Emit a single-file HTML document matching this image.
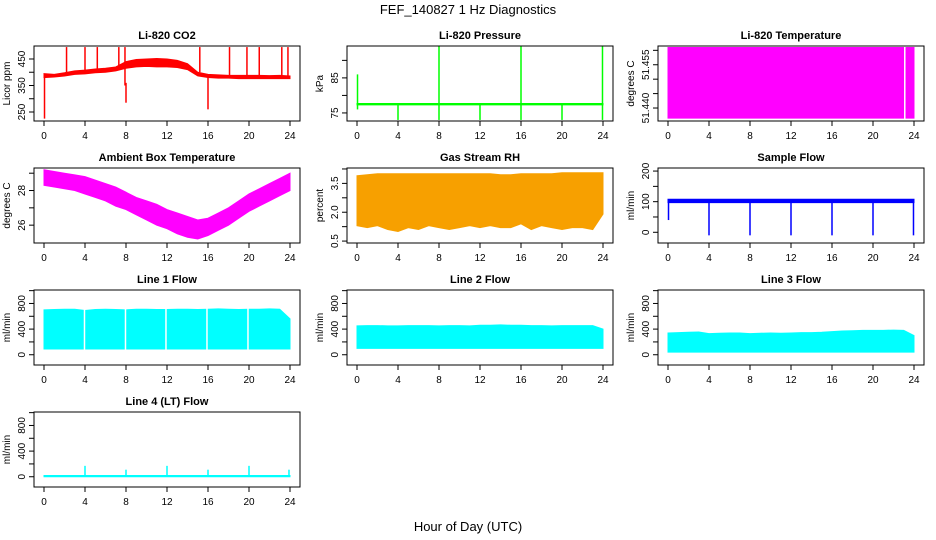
<!DOCTYPE html>
<html><head><meta charset="utf-8"><style>
body{margin:0;background:#fff;}
svg{display:block;font-family:"Liberation Sans",sans-serif;}
</style></head><body>
<svg id="c" width="936" height="540" viewBox="0 0 936 540">
<text x="468" y="14" text-anchor="middle" font-size="13">FEF_140827  1 Hz Diagnostics</text>
<text x="468" y="531" text-anchor="middle" font-size="13">Hour of Day (UTC)</text>
</svg>
<script>
const hours=[0,1,2,3,4,5,6,7,8,9,10,11,12,13,14,15,16,17,18,19,20,21,22,23,24];
const xTicks=[0,4,8,12,16,20,24];
// CO2
const co2Hi=[395,392,398,405,408,412,415,420,440,448,450,452,450,445,432,400,392,390,388,388,388,388,387,388,386];
const co2Lo=[380,382,386,392,394,398,400,405,415,420,422,420,420,418,410,386,380,378,378,376,376,376,376,376,376];
const co2SpikeX=[0.05,2.2,4.0,5.2,7.3,7.9,8.0,15.2,16.0,18.1,19.8,21.0,23.2,23.8];
const co2SpikeTop=[395,495,495,495,495,495,360,495,390,495,495,495,495,495];
const co2SpikeBot=[225,395,400,410,420,350,285,400,260,380,376,376,376,376];
// Pressure
const presHi=hours.map(()=>77.7);
const presLo=hours.map(()=>77.3);
const presSpikeX=[0.05,4,8,12,16,20,23.95];
const presSpikeTop=[86,77.8,94,77.8,94,77.8,94];
const presSpikeBot=[76,73,73,73,73,73,73];
// Li-820 temperature
const tempHi=hours.map(()=>51.461);
const tempLo=hours.map(()=>51.4365);
// Ambient box temperature
const ambHi=[29.2,29.1,29.0,28.9,28.8,28.6,28.4,28.2,27.9,27.6,27.4,27.2,26.9,26.7,26.5,26.3,26.4,26.7,27.0,27.4,27.8,28.1,28.4,28.7,29.0];
const ambLo=[28.3,28.2,28.1,28.0,27.8,27.6,27.4,27.1,26.9,26.6,26.3,26.0,25.8,25.5,25.3,25.2,25.4,25.7,26.0,26.4,26.8,27.1,27.4,27.7,28.0];
// RH
const rhHi=[3.9,3.95,4.0,4.0,4.0,4.0,4.0,4.0,4.0,4.0,4.0,4.0,4.0,4.0,3.95,3.95,4.0,4.0,4.0,4.0,4.05,4.05,4.05,4.05,4.05];
const rhLo=[1.3,1.2,1.3,1.1,1.0,1.2,1.1,1.3,1.2,1.1,1.2,1.3,1.2,1.3,1.2,1.2,1.4,1.1,1.3,1.2,1.1,1.2,1.2,1.1,1.9];
// Sample flow
const sfHi=hours.map(()=>108);
const sfLo=hours.map(()=>97);
const sfSpikeX=[0.05,4,8,12,16,20,23.95];
const sfSpikeTop=[100,100,100,100,100,100,100];
const sfSpikeBot=[40,-10,-10,-10,-10,-10,-10];
// Line flows
const l1Hi=[700,705,710,710,690,705,710,705,700,710,710,705,705,710,710,705,710,715,710,705,710,710,715,710,560];
const l1Lo=hours.map(()=>90);
const l2Hi=[450,455,455,450,450,455,455,455,450,455,455,450,460,460,465,460,460,455,455,450,455,455,455,455,400];
const l2Lo=hours.map(()=>100);
const l3Hi=[340,345,350,355,330,335,340,340,330,335,340,335,340,345,345,350,360,370,375,380,380,380,385,380,300];
const l3Lo=hours.map(()=>40);
const l4Hi=hours.map(()=>20);
const l4Lo=hours.map(()=>0);
const l4SpikeX=[4,8,12,16,20,23.9];
const l4SpikeTop=[170,110,170,110,170,110];
const gapX=[3.95,7.95,11.9,15.9,19.9];

const NS='http://www.w3.org/2000/svg';
const svg=document.getElementById('c');
function el(tag,attrs,parent){const e=document.createElementNS(NS,tag);for(const k in attrs)e.setAttribute(k,attrs[k]);(parent||svg).appendChild(e);return e;}

const flowTicks=[0,400,800];
const panels=[
 {c:0,r:0,title:'Li-820 CO2',ylab:'Licor ppm',ylim:[216,499],yt:[250,350,450],ym:[300,400],col:'#ff0000',hi:co2Hi,lo:co2Lo,sx:co2SpikeX,st:co2SpikeTop,sb:co2SpikeBot},
 {c:1,r:0,title:'Li-820 Pressure',ylab:'kPa',ylim:[72.7,94.1],yt:[75,85],ym:[80,90],col:'#00ff00',hi:presHi,lo:presLo,sx:presSpikeX,st:presSpikeTop,sb:presSpikeBot},
 {c:2,r:0,title:'Li-820 Temperature',ylab:'degrees C',ylim:[51.4355,51.4615],yt:[51.44,51.455],ym:[51.445,51.45,51.46],ytf:v=>v.toFixed(3),col:'#ff00ff',hi:tempHi,lo:tempLo,gaps:[23.1]},
 {c:0,r:1,title:'Ambient Box Temperature',ylab:'degrees C',ylim:[24.97,29.3],yt:[26,28],ym:[27,29],col:'#ff00ff',hi:ambHi,lo:ambLo},
 {c:1,r:1,title:'Gas Stream RH',ylab:'percent',ylim:[0.4,4.3],yt:[0.5,2.0,3.5],ym:[1.25,2.75,4.25],ytf:v=>v.toFixed(1),col:'#f7a000',hi:rhHi,lo:rhLo},
 {c:2,r:1,title:'Sample Flow',ylab:'ml/min',ylim:[-35,210],yt:[0,100,200],ym:[50,150],col:'#0000ff',hi:sfHi,lo:sfLo,sx:sfSpikeX,st:sfSpikeTop,sb:sfSpikeBot},
 {c:0,r:2,title:'Line 1 Flow',ylab:'ml/min',ylim:[-160,1010],yt:flowTicks,ym:[200,600,1000],col:'#00ffff',hi:l1Hi,lo:l1Lo,gaps:gapX},
 {c:1,r:2,title:'Line 2 Flow',ylab:'ml/min',ylim:[-160,1010],yt:flowTicks,ym:[200,600,1000],col:'#00ffff',hi:l2Hi,lo:l2Lo},
 {c:2,r:2,title:'Line 3 Flow',ylab:'ml/min',ylim:[-160,1010],yt:flowTicks,ym:[200,600,1000],col:'#00ffff',hi:l3Hi,lo:l3Lo},
 {c:0,r:3,title:'Line 4 (LT) Flow',ylab:'ml/min',ylim:[-160,1010],yt:flowTicks,ym:[200,600,1000],col:'#00ffff',hi:l4Hi,lo:l4Lo,sx:l4SpikeX,st:l4SpikeTop,sb:l4SpikeX.map(()=>0)}
];
const colX=[34,347,658], rowY=[46,168,290,412], W=266, Hh=75;
panels.forEach((p,i)=>{
  const L=colX[p.c], T=rowY[p.r], B=T+Hh, R=L+W;
  const g=el('g',{});
  
  
  const xs=v=>L+10+(v)*(W-20)/24;
  const ys=v=>B-(v-p.ylim[0])/(p.ylim[1]-p.ylim[0])*Hh;
  let d='M'+hours.map((h,j)=>xs(h)+','+ys(p.hi[j])).join(' L');
  for(let j=hours.length-1;j>=0;j--)d+=' L'+xs(hours[j])+','+ys(p.lo[j]);
  const band=el('path',{d:d+'Z',fill:p.col,stroke:p.col,'stroke-width':1},g);
  
  
  if(p.gaps)p.gaps.forEach(gx=>{const gl=el('line',{x1:xs(gx),x2:xs(gx),y1:T+1,y2:B-1,stroke:'#fff','stroke-width':1.5},g);
    
    });
  if(p.sx)p.sx.forEach((sx,j)=>{const sp=el('line',{x1:xs(sx),x2:xs(sx),y1:ys(p.st[j]),y2:ys(p.sb[j]),stroke:p.col,'stroke-width':1.5},g);
    
    });
  const box=el('rect',{x:L,y:T,width:W,height:Hh,fill:'none',stroke:'#000','stroke-width':1},g);
  
  
  const t=el('text',{x:L+W/2,y:T-7,'text-anchor':'middle','font-size':11,'font-weight':'bold'},g);
  t.textContent=p.title;
  
  
  xTicks.forEach(v=>{el('line',{x1:xs(v),x2:xs(v),y1:B,y2:B+5,stroke:'#000'},g);
    const tx=el('text',{x:xs(v),y:B+18,'text-anchor':'middle','font-size':10},g);
    tx.textContent=v;
    
    });
  const allT=p.yt.concat(p.ym).filter(v=>v>=p.ylim[0]&&v<=p.ylim[1]);
  allT.forEach(v=>el('line',{x1:L-5,x2:L,y1:ys(v),y2:ys(v),stroke:'#000'},g));
  p.yt.forEach(v=>{const ty=el('text',{x:0,y:0,'text-anchor':'middle','font-size':10,transform:`translate(${L-9},${ys(v)}) rotate(-90)`},g);
    ty.textContent=p.ytf?p.ytf(v):v;
    
    });
  const yl=el('text',{x:0,y:0,'text-anchor':'middle','font-size':10,transform:`translate(${L-24},${T+Hh/2}) rotate(-90)`},g);
  yl.textContent=p.ylab;
  
  
});
</script>
</body></html>
